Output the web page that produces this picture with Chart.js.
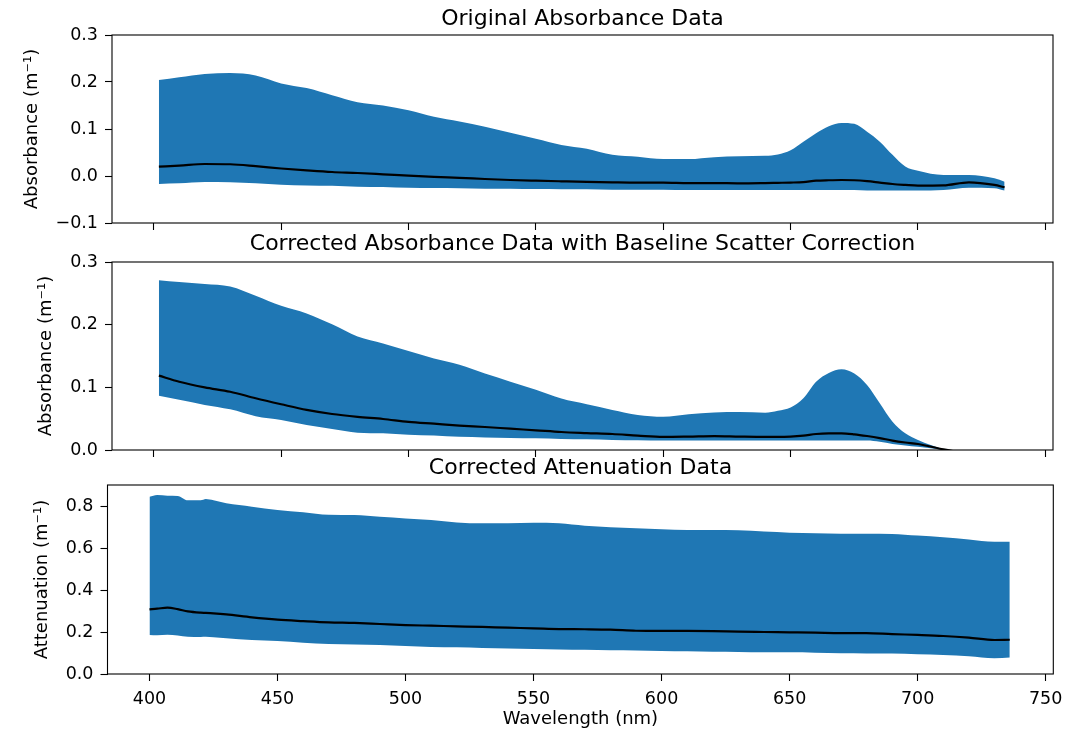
<!DOCTYPE html>
<html lang="en">
<head>
    <meta charset="UTF-8">
    <title>Absorbance & Attenuation Data</title>
    <script src="https://cdn.jsdelivr.net/npm/chart.js"></script>
    <style>
        html, body { margin: 0; padding: 0; background: #fff; overflow: hidden; }
        #wrap { position: relative; width: 1089px; height: 731px; overflow: hidden; }
        canvas { position: absolute; left: 0; top: 0; }
    </style>
</head>
<body>
<div id="wrap">
    <canvas id="origChart" width="1165" height="731"></canvas>
    <canvas id="corrChart" width="1165" height="731"></canvas>
    <canvas id="attChart" width="1161" height="731"></canvas>
</div>
<script>
// wavelengths (nm) for the two absorbance panels
const absWavelength = [402, 410, 420, 430, 440, 450, 460, 470, 480, 490, 500, 510, 520, 530, 540, 550, 560, 570, 580, 590, 600,
    610, 620, 630, 640, 645, 650, 655, 660, 665, 670, 675, 680, 685, 690, 695, 700, 710, 720, 730, 734];

// original absorbance: min / mean / max envelope
const origLower = [-0.017, -0.0156, -0.0128, -0.0134, -0.0156, -0.0185, -0.020, -0.021, -0.0227, -0.0234, -0.025, -0.0255, -0.026,
    -0.027, -0.027, -0.0277, -0.028, -0.028, -0.029, -0.029, -0.029, -0.030, -0.030, -0.030, -0.030, -0.030, -0.030, -0.030,
    -0.030, -0.030, -0.030, -0.030, -0.031, -0.031, -0.031, -0.031, -0.031, -0.030, -0.025, -0.026, -0.031];
const origMean = [0.020, 0.022, 0.0255, 0.025, 0.021, 0.016, 0.012, 0.0085, 0.0064, 0.0036, 0.0007, -0.002, -0.004, -0.0064,
    -0.0085, -0.010, -0.0113, -0.0125, -0.0134, -0.014, -0.014, -0.015, -0.015, -0.0156, -0.015, -0.0145, -0.014, -0.013, -0.010,
    -0.009, -0.0085, -0.009, -0.011, -0.014, -0.017, -0.019, -0.0206, -0.020, -0.0134, -0.019, -0.024];
const origUpper = [0.204, 0.210, 0.217, 0.219, 0.214, 0.197, 0.187, 0.172, 0.157, 0.150, 0.140, 0.126, 0.116, 0.105, 0.092,
    0.079, 0.066, 0.058, 0.045, 0.041, 0.036, 0.036, 0.040, 0.042, 0.043, 0.046, 0.055, 0.073, 0.091, 0.106, 0.113, 0.111, 0.094,
    0.073, 0.045, 0.020, 0.011, 0.002, 0.002, -0.005, -0.012];

// corrected absorbance (baseline scatter correction)
const corrLower = [0.0867, 0.080, 0.072, 0.065, 0.054, 0.048, 0.040, 0.0335, 0.0277, 0.0266, 0.0245, 0.023, 0.021, 0.020, 0.019,
    0.0186, 0.0176, 0.017, 0.016, 0.0155, 0.015, 0.015, 0.015, 0.015, 0.015, 0.015, 0.015, 0.015, 0.015, 0.015, 0.015, 0.015,
    0.015, 0.013, 0.0096, 0.007, 0.005, 0.000, -0.008, -0.015, -0.018];
const corrMean = [0.1186, 0.109, 0.100, 0.093, 0.0825, 0.073, 0.064, 0.0575, 0.053, 0.0495, 0.045, 0.042, 0.039, 0.0367, 0.034,
    0.0314, 0.0287, 0.027, 0.0255, 0.023, 0.021, 0.0215, 0.0223, 0.0215, 0.021, 0.021, 0.0215, 0.023, 0.0255, 0.0265, 0.0266,
    0.025, 0.0223, 0.019, 0.015, 0.012, 0.0096, 0.001, -0.006, -0.012, -0.015];
const corrUpper = [0.271, 0.268, 0.265, 0.261, 0.246, 0.230, 0.218, 0.2005, 0.181, 0.170, 0.158, 0.146, 0.136, 0.122, 0.109,
    0.096, 0.082, 0.073, 0.064, 0.056, 0.053, 0.057, 0.060, 0.0606, 0.0596, 0.0628, 0.068, 0.0825, 0.109, 0.123, 0.129, 0.122,
    0.1037, 0.0745, 0.045, 0.0266, 0.016, 0.001, -0.010, -0.018, -0.022];

// attenuation panel has its own wavelength grid
const attWavelength = [400, 403, 407, 411, 415, 420, 422, 425, 430, 440, 450, 460, 470, 480, 490, 500, 510, 520, 530, 540, 550,
    560, 570, 580, 590, 600, 610, 620, 630, 640, 650, 660, 670, 680, 690, 700, 710, 720, 730, 736];
const attLower = [0.186, 0.184, 0.187, 0.183, 0.177, 0.176, 0.177, 0.175, 0.170, 0.162, 0.157, 0.149, 0.143, 0.141, 0.138, 0.133,
    0.129, 0.127, 0.124, 0.122, 0.119, 0.117, 0.115, 0.113, 0.112, 0.1095, 0.108, 0.106, 0.105, 0.103, 0.103, 0.1015, 0.0985,
    0.098, 0.098, 0.094, 0.0905, 0.084, 0.075, 0.078];
const attMean = [0.308, 0.311, 0.316, 0.309, 0.298, 0.292, 0.291, 0.289, 0.284, 0.270, 0.259, 0.252, 0.246, 0.243, 0.238, 0.233,
    0.230, 0.227, 0.224, 0.2205, 0.2175, 0.214, 0.213, 0.211, 0.206, 0.205, 0.205, 0.204, 0.2015, 0.200, 0.1985, 0.197, 0.195,
    0.195, 0.190, 0.186, 0.181, 0.173, 0.162, 0.163];
const attUpper = [0.844, 0.852, 0.849, 0.848, 0.827, 0.827, 0.833, 0.827, 0.813, 0.797, 0.781, 0.770, 0.758, 0.757, 0.749, 0.741,
    0.733, 0.722, 0.7175, 0.7175, 0.720, 0.7175, 0.706, 0.699, 0.694, 0.689, 0.686, 0.686, 0.684, 0.678, 0.673, 0.670, 0.668,
    0.668, 0.667, 0.659, 0.651, 0.641, 0.630, 0.630];

const xTicks = [400, 450, 500, 550, 600, 650, 700, 750];

const blue = '#1f77b4';
const fontFamily = '"DejaVu Sans", sans-serif';

function pts(xs, ys) {
    return xs.map((x, i) => ({ x: x, y: ys[i] }));
}

function fmt(v) {
    return v.toFixed(1).replace('-', '\u2212'); // matplotlib style minus
}

// draw the four spines around the plot area
const boxPlugin = {
    id: 'box',
    afterDatasetsDraw(chart) {
        const a = chart.chartArea;
        const ctx = chart.ctx;
        ctx.save();
        ctx.strokeStyle = '#000';
        ctx.lineWidth = 1.1;
        ctx.strokeRect(a.left, a.top, a.right - a.left, a.bottom - a.top);
        ctx.restore();
    }
};

function makePanel(id, p) {
    new Chart(document.getElementById(id), {
        type: 'line',
        data: {
            datasets: [
                { data: pts(p.xs, p.mean), borderColor: '#000', borderWidth: 2.2, pointRadius: 0, fill: false },
                { data: pts(p.xs, p.lower), borderWidth: 0, pointRadius: 0, fill: false },
                { data: pts(p.xs, p.upper), borderWidth: 0, pointRadius: 0, fill: 1, backgroundColor: blue }
            ]
        },
        options: {
            responsive: false,
            animation: false,
            elements: { line: { cubicInterpolationMode: 'monotone' } },
            layout: { padding: { left: 0, right: 0, top: 0, bottom: p.bottomPad } },
            plugins: {
                legend: { display: false },
                tooltip: { enabled: false },
                title: {
                    display: true,
                    text: p.title,
                    color: '#000',
                    font: { family: fontFamily, size: 22, weight: 'normal' },
                    padding: { top: p.titleTop, bottom: p.titleBottom }
                }
            },
            scales: {
                x: {
                    type: 'linear',
                    min: 383.6,
                    max: 753,
                    afterFit: s => { s.height = p.xHeight; },
                    afterBuildTicks: s => { s.ticks = xTicks.map(v => ({ value: v })); },
                    ticks: {
                        display: p.showX,
                        color: '#000',
                        font: { family: fontFamily, size: 17.5 },
                        padding: 8,
                        maxRotation: 0,
                        autoSkip: false
                    },
                    grid: { drawOnChartArea: false, drawTicks: true, tickLength: 7, color: '#000', tickWidth: 1.1 },
                    border: { display: false },
                    title: {
                        display: p.showX,
                        text: 'Wavelength (nm)',
                        color: '#000',
                        font: { family: fontFamily, size: 18 },
                        padding: { top: 0, bottom: 1 }
                    }
                },
                y: {
                    min: p.yMin,
                    max: p.yMax,
                    afterFit: s => { s.width = p.left; },
                    ticks: {
                        stepSize: p.yStep,
                        includeBounds: false,
                        callback: fmt,
                        color: '#000',
                        font: { family: fontFamily, size: 17.5 },
                        padding: 7
                    },
                    grid: { drawOnChartArea: false, drawTicks: true, tickLength: 7, color: '#000', tickWidth: 1.1 },
                    border: { display: false },
                    title: {
                        display: true,
                        text: p.yLabel,
                        color: '#000',
                        font: { family: fontFamily, size: 18 },
                        padding: { top: p.yLabelPad, bottom: 0 }
                    }
                },
                // empty spacer on the right so the title centres over the axes
                yR: {
                    axis: 'y',
                    position: 'right',
                    afterFit: s => { s.width = p.right; },
                    ticks: { display: false },
                    grid: { display: false },
                    border: { display: false }
                }
            }
        },
        plugins: [boxPlugin]
    });
}

makePanel('origChart', {
    title: 'Original Absorbance Data',
    titleTop: 6.3, titleBottom: 2.3,
    yLabel: 'Absorbance (m\u207B\u00B9)', yLabelPad: 21.2,
    yMin: -0.1, yMax: 0.3, yStep: 0.1,
    xs: absWavelength, lower: origLower, mean: origMean, upper: origUpper,
    left: 112, right: 112, xHeight: 10, bottomPad: 498, showX: false
});

makePanel('corrChart', {
    title: 'Corrected Absorbance Data with Baseline Scatter Correction',
    titleTop: 231.5, titleBottom: 4.1,
    yLabel: 'Absorbance (m\u207B\u00B9)', yLabelPad: 35.2,
    yMin: 0, yMax: 0.3, yStep: 0.1,
    xs: absWavelength, lower: corrLower, mean: corrMean, upper: corrUpper,
    left: 112, right: 112, xHeight: 10, bottomPad: 271, showX: false
});

makePanel('attChart', {
    title: 'Corrected Attenuation Data',
    titleTop: 455.3, titleBottom: 3.3,
    yLabel: 'Attenuation (m\u207B\u00B9)', yLabelPad: 31.7,
    yMin: 0, yMax: 0.9, yStep: 0.2,
    xs: attWavelength, lower: attLower, mean: attMean, upper: attUpper,
    left: 107.5, right: 107.7, xHeight: 57, bottomPad: 0, showX: true
});
</script>
</body>
</html>
